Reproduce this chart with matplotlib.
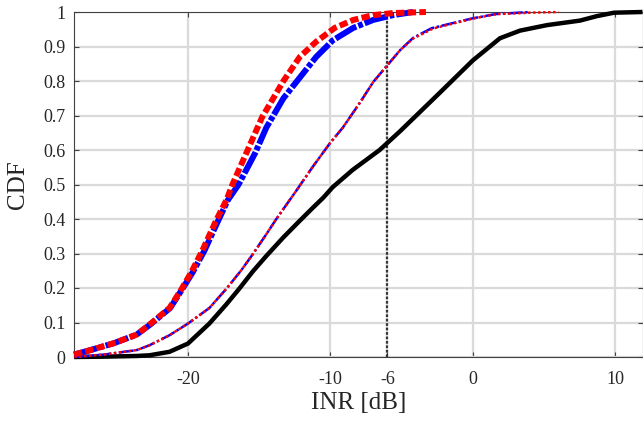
import matplotlib
matplotlib.use("Agg")
import matplotlib.pyplot as plt

# ---- data ----
black_x = [-28, -25.9, -23.6, -22.7, -21.3, -20.0, -18.5, -17.3, -16.4, -15.45, -14.5, -13.3,
           -12.2, -11.3, -10.5, -9.85, -8.45, -6.55, -5.1, -2.5, 0.0, 1.9, 3.3, 5.2, 7.5,
           8.7, 9.9, 11.9]
black_y = [0, 0.001, 0.003, 0.005, 0.015, 0.039, 0.097, 0.153, 0.198, 0.248, 0.293, 0.347,
           0.393, 0.43, 0.462, 0.492, 0.542, 0.60, 0.655, 0.759, 0.86, 0.924, 0.946, 0.962,
           0.975, 0.988, 0.998, 1.0]

mid_blue_x = [-28, -25.9, -23.6, -22.7, -21.3, -20.0, -18.5, -17.3, -16.25, -15.45, -14.5,
              -13.8, -12.4, -11.25, -10.05, -9.13, -7.97, -7.0, -6.0, -5.1, -4.2, -2.9,
              -0.1, 1.6, 4.0]
mid_blue_y = [0, 0.007, 0.02, 0.034, 0.063, 0.097, 0.142, 0.198, 0.252, 0.298, 0.356,
              0.4, 0.482, 0.551, 0.619, 0.665, 0.735, 0.797, 0.846, 0.89, 0.925, 0.953,
              0.981, 0.994, 1.0]

mid_red_x = [-28, -25.9, -23.6, -22.7, -21.3, -20.0, -18.5, -17.3, -16.25, -15.45, -14.5,
             -13.8, -12.4, -11.25, -10.05, -9.13, -7.97, -7.0, -6.0, -5.1, -4.2, -2.8,
             0.0, 1.7, 4.0, 6.0]
mid_red_y = [0, 0.007, 0.02, 0.034, 0.063, 0.097, 0.142, 0.198, 0.252, 0.298, 0.356,
             0.4, 0.482, 0.551, 0.619, 0.665, 0.735, 0.797, 0.846, 0.89, 0.923, 0.952,
             0.981, 0.994, 0.998, 1.0]

left_blue_x = [-28, -26.85, -25.2, -23.6, -22.65, -21.25, -20.4, -19.65, -18.85, -17.85,
               -17.2, -16.45, -15.3, -14.5, -13.3, -12.15, -11.0, -9.83, -8.4, -7.0, -5.6, -4.2]
left_blue_y = [0.007, 0.02, 0.04, 0.065, 0.094, 0.142, 0.197, 0.247, 0.308, 0.398,
               0.455, 0.5, 0.59, 0.665, 0.75, 0.81, 0.87, 0.918, 0.954, 0.977, 0.991, 1.0]

left_red_x = [-28, -26.85, -25.2, -23.6, -22.7, -21.3, -20.45, -19.75, -19.0, -18.0,
              -17.3, -16.85, -15.65, -14.8, -13.3, -12.15, -11.0, -9.7, -8.4, -7.0, -5.6, -3.3]
left_red_y = [0.007, 0.02, 0.04, 0.065, 0.094, 0.142, 0.197, 0.247, 0.308, 0.398,
              0.455, 0.503, 0.615, 0.695, 0.8, 0.87, 0.914, 0.954, 0.977, 0.991, 0.997, 1.0]

threshold = -6
x_ticks = [-20, -10, -6, 0, 10]
y_ticks = [0, 0.1, 0.2, 0.3, 0.4, 0.5, 0.6, 0.7, 0.8, 0.9, 1]
y_tick_labels = ["0", "0.1", "0.2", "0.3", "0.4", "0.5", "0.6", "0.7", "0.8", "0.9", "1"]

plt.rcParams['font.family'] = ['Liberation Serif', 'DejaVu Serif']

fig = plt.figure(figsize=(6.43, 4.21), dpi=100)
ax = fig.add_axes([74 / 643, 1 - 357 / 421, (642.5 - 74) / 643, (357 - 12) / 421])

ax.set_xlim(-28, 11.9)
ax.set_ylim(0, 1)

ax.grid(True, color='#dadada', linewidth=1.6)
ax.set_axisbelow(True)

ax.axvline(threshold, color='#333333', linewidth=1.6, linestyle=(0, (1.2, 0.8)), zorder=2)

ax.plot(black_x, black_y, color='black', linewidth=3.2, zorder=3, clip_on=False,
        solid_capstyle='butt', solid_joinstyle='round')
ax.plot(mid_blue_x, mid_blue_y, color='blue', linewidth=1.8, linestyle=(0, (6, 1, 1, 1)),
        zorder=4, clip_on=False)
ax.plot(mid_red_x, mid_red_y, color='red', linewidth=1.8, linestyle=(0, (1, 1)),
        zorder=5, clip_on=False)
ax.plot(left_blue_x, left_blue_y, color='blue', linewidth=4.3,
        linestyle=(0, (4, 0.35, 0.8, 0.35)), zorder=6, clip_on=False, dash_capstyle='butt')
ax.plot(left_red_x, left_red_y, color='red', linewidth=4.3,
        linestyle=(0, (1.4, 0.55)), zorder=7, clip_on=False, dash_capstyle='butt')

ax.set_xticks(x_ticks)
ax.set_xticklabels([str(t) for t in x_ticks])
ax.set_yticks(y_ticks)
ax.set_yticklabels(y_tick_labels)

ax.tick_params(direction='in', length=3.5, width=0.8, colors='#404040',
               labelcolor='#262626', labelsize=13, top=True, right=True)
ax.tick_params(axis='x', pad=10)
ax.tick_params(axis='y', pad=6)

for s in ax.spines.values():
    s.set_color('#404040')
    s.set_linewidth(0.8)

ax.set_xlabel('INR [dB]', fontsize=18, color='#262626', labelpad=3)
ax.set_ylabel('CDF', fontsize=18, color='#262626', labelpad=10)

fig.savefig('out.png', dpi=100)
